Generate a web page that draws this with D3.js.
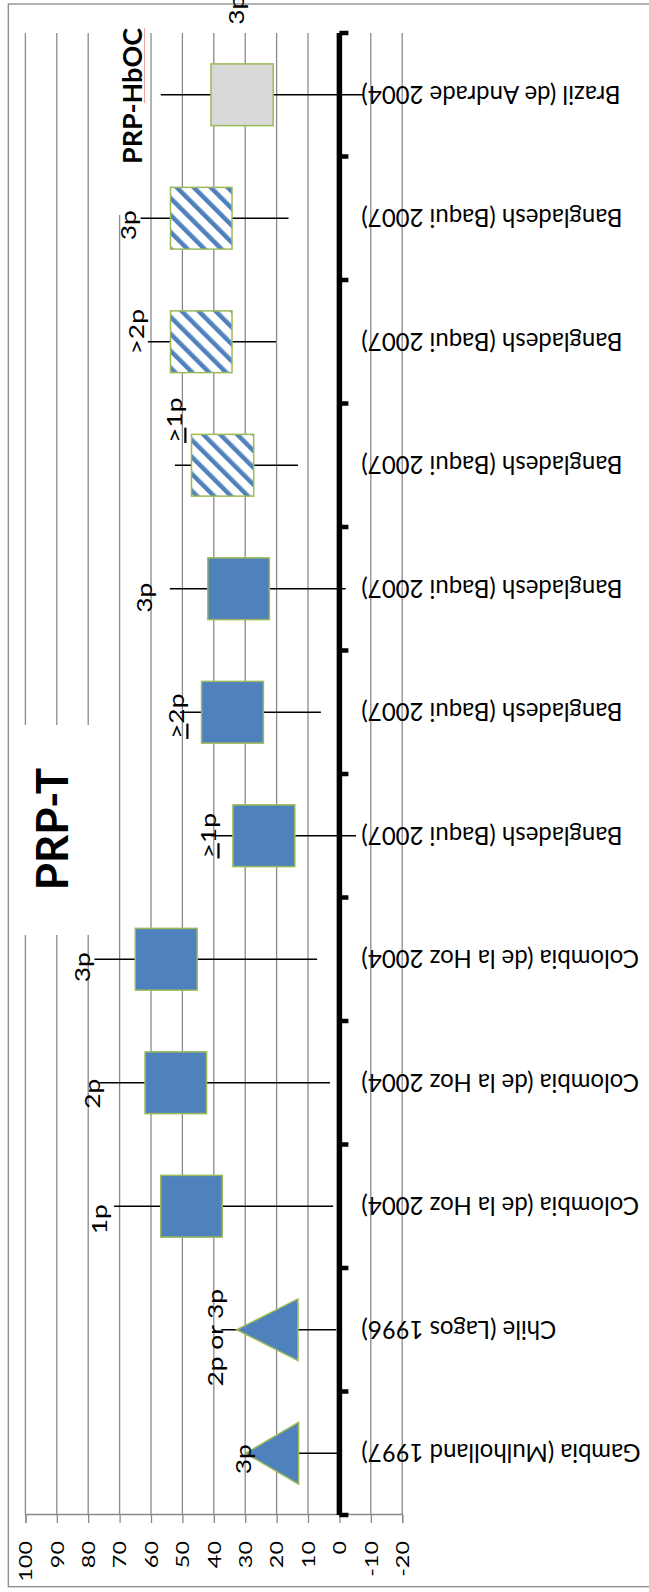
<!DOCTYPE html>
<html>
<head>
<meta charset="utf-8">
<script src="https://cdn.jsdelivr.net/npm/d3@7"></script>
<style>
  html, body { margin: 0; padding: 0; background: #fff; }
  svg { display: block; }
</style>
</head>
<body>
<div id="chart"></div>
<script>
// Hib vaccine response chart, drawn upright then turned 90deg ccw like the source slide.
// Box = inner range, whisker = outer range, triangle marks for the two early trials.

const categories = [
  'Gambia (Mulholland 1997)', 'Chile (Lagos 1996)',
  'Colombia (de la Hoz 2004)', 'Colombia (de la Hoz 2004)', 'Colombia (de la Hoz 2004)',
  'Bangladesh (Baqui 2007)', 'Bangladesh (Baqui 2007)', 'Bangladesh (Baqui 2007)',
  'Bangladesh (Baqui 2007)', 'Bangladesh (Baqui 2007)', 'Bangladesh (Baqui 2007)',
  'Brazil (de Andrade 2004)',
];
const boxLow      = [13, 13.2, 37.3, 42.3, 45.3, 14.2, 24.2, 22.3, 27.3, 34.2, 34.2, 21.1];
const boxHigh     = [29.9, 32.7, 56.9, 61.9, 65.0, 33.9, 43.9, 41.9, 47.1, 53.8, 53.8, 40.9];
const whiskerLow  = [0, 1, 2, 3, 7.1, -5.3, 5.9, -2, 13.2, 20.2, 16.2, -7.7];
const whiskerHigh = [29.9, 37.6, 71.8, 76.5, 78, 40.9, 50.8, 54, 52.4, 61, 63.3, 56.9];
const markKind    = ['triangle', 'triangle', 'solid', 'solid', 'solid', 'solid', 'solid', 'solid',
                     'hatch', 'hatch', 'hatch', 'gray'];
const pointLabels = ['3p', '2p or 3p', '1p', '2p', '3p', '≥1p', '≥2p', '3p', '≥1p', '>2p', '3p', '3p'];
const valueTicks  = [100, 90, 80, 70, 60, 50, 40, 30, 20, 10, 0, -10, -20];
const groupTitles = ['PRP-T', 'PRP-HbOC'];

// ---- layout (upright frame: x = categories, y = value) ----
const PAGE_W = 649, PAGE_H = 1592;
const PLOT = { left: 77, right: 1559, top: 25.4, bottom: 402.2 };
const FONT = "Lato, 'Open Sans', 'DejaVu Sans', sans-serif";
const BLUE = '#4F81BD', GREEN = '#9BBB59', GRID = '#8a8a8a';
// the source chart was stretched along its x axis, so its texts are too
const S_TICK = 1.3, S_CAT = 1.05, S_LAB = 1.2;

// label nudges in px: [lift above whisker end, shift along category]
const LABEL_NUDGE = [[1.5, -6], [5, -8], [13.6, -13], [6, -11], [11.5, -8], [2, 0], [2, -4],
                     [24, -9], [-1, 45], [10, 10], [11.6, -7], [-77, 85]];

const y = d3.scaleLinear().domain([-20, 100]).range([PLOT.bottom, PLOT.top]);
const x = d3.scaleBand()
  .domain(d3.range(categories.length))
  .range([PLOT.left, PLOT.right])
  .paddingInner(0.5).paddingOuter(0.25);
const bw = x.bandwidth();

const svg = d3.select('#chart').append('svg')
  .attr('width', PAGE_W).attr('height', PAGE_H)
  .attr('viewBox', `0 0 ${PAGE_W} ${PAGE_H}`);

const defs = svg.append('defs');
const hatch = defs.append('pattern')
  .attr('id', 'hatch').attr('patternUnits', 'userSpaceOnUse')
  .attr('width', 12).attr('height', 12)
  .attr('patternTransform', 'rotate(45)');
hatch.append('rect').attr('width', 12).attr('height', 12).attr('fill', '#fff');
hatch.append('rect').attr('width', 4.5).attr('height', 12).attr('fill', BLUE);

// turn the upright chart 90deg counter-clockwise onto the page
const g = svg.append('g').attr('transform', `translate(0,${PAGE_H}) rotate(-90)`)
  .style('font-family', FONT);

// outer chart border
g.append('rect')
  .attr('x', 5.3).attr('y', 8.3).attr('width', 1588 - 5.3).attr('height', 680)
  .attr('fill', '#fff').attr('stroke', GRID).attr('stroke-width', 1.3);

// gridlines
g.append('g').selectAll('line')
  .data(valueTicks.filter(v => v !== 0))
  .join('line')
  .attr('x1', PLOT.left).attr('x2', PLOT.right)
  .attr('y1', d => y(d)).attr('y2', d => y(d))
  .attr('stroke', GRID).attr('stroke-width', 1.3);

// value axis
const yAxis = d3.axisLeft(y).tickValues(valueTicks).tickSize(8).tickFormat(d3.format('d'));
g.append('g')
  .attr('transform', `translate(${PLOT.left},0)`)
  .call(yAxis)
  .call(ax => ax.select('.domain').attr('stroke', GRID).attr('stroke-width', 1.3))
  .call(ax => ax.selectAll('.tick line').attr('stroke', GRID).attr('stroke-width', 1.3))
  .call(ax => ax.selectAll('.tick text')
    .attr('x', 0).attr('dy', '0.35em')
    .attr('transform', `translate(-26,0) scale(${S_TICK},1)`)
    .attr('fill', '#000').attr('font-size', 18).attr('font-family', FONT)
    .text(d => d < 0 ? '-' + Math.abs(d) : d));

// title boxes (white, cover the gridlines)
g.append('rect').attr('x', 657).attr('y', 12).attr('width', 210).attr('height', 90).attr('fill', '#fff');
g.append('rect').attr('x', 1377).attr('y', 112).attr('width', 195).attr('height', 36).attr('fill', '#fff');
g.append('text')
  .attr('x', 763).attr('y', 52).attr('dy', '0.36em')
  .attr('text-anchor', 'middle').attr('font-weight', 700).attr('font-size', 44)
  .text(groupTitles[0]);
g.append('text')
  .attr('x', 1496).attr('y', 132.5).attr('dy', '0.36em')
  .attr('text-anchor', 'middle').attr('font-weight', 700).attr('font-size', 27)
  .text(groupTitles[1]);
g.append('line')
  .attr('x1', 1489).attr('x2', 1564).attr('y1', 144.5).attr('y2', 144.5)
  .attr('stroke', '#f2a0a0').attr('stroke-width', 1);

// whiskers
const cx = i => x(i) + bw / 2;
g.append('g').selectAll('line')
  .data(d3.range(categories.length))
  .join('line')
  .attr('x1', cx).attr('x2', cx)
  .attr('y1', i => y(whiskerLow[i])).attr('y2', i => y(whiskerHigh[i]))
  .attr('stroke', '#000').attr('stroke-width', 1.6);

// boxes and triangles
const fillFor = k => k === 'hatch' ? 'url(#hatch)' : k === 'gray' ? '#D9D9D9' : BLUE;
const marks = g.append('g');
d3.range(categories.length).forEach(i => {
  const k = markKind[i];
  if (k === 'triangle') {
    marks.append('path')
      .attr('d', `M${x(i)},${y(boxLow[i])}L${x(i) + bw},${y(boxLow[i])}L${cx(i)},${y(boxHigh[i])}Z`)
      .attr('fill', BLUE).attr('stroke', GREEN).attr('stroke-width', 1.5);
  } else {
    marks.append('rect')
      .attr('x', x(i)).attr('width', bw)
      .attr('y', y(boxHigh[i])).attr('height', y(boxLow[i]) - y(boxHigh[i]))
      .attr('fill', fillFor(k)).attr('stroke', GREEN).attr('stroke-width', 1.5);
  }
});

// category axis at zero
const y0 = y(0);
g.append('line')
  .attr('x1', PLOT.left).attr('x2', PLOT.right).attr('y1', y0).attr('y2', y0)
  .attr('stroke', '#000').attr('stroke-width', 5.5);
const bounds = d3.range(categories.length).map(i => x(i) - (x.step() - bw) / 2).concat([PLOT.right]);
g.append('g').selectAll('line')
  .data(bounds)
  .join('line')
  .attr('x1', d => d).attr('x2', d => d)
  .attr('y1', y0).attr('y2', y0 + 9)
  .attr('stroke', '#000').attr('stroke-width', 4.5);

g.append('g').selectAll('text')
  .data(categories)
  .join('text')
  .attr('transform', (d, i) => `translate(${cx(i)},${y0 + 22}) scale(${S_CAT},1) rotate(-90)`)
  .attr('dy', '0.35em')
  .attr('text-anchor', 'end')
  .attr('font-size', 24).attr('fill', '#000')
  .text(d => d);

// point labels above the whisker ends
const lab = g.append('g').selectAll('text')
  .data(pointLabels)
  .join('text')
  .attr('transform', (d, i) =>
    `translate(${cx(i) + LABEL_NUDGE[i][1]},${y(whiskerHigh[i]) - LABEL_NUDGE[i][0]}) scale(${S_LAB},1)`)
  .attr('dy', '0.3em')
  .attr('text-anchor', 'middle')
  .attr('font-size', 22).attr('fill', '#000');
lab.each(function(d) {
  const t = d3.select(this);
  if (d.startsWith('≥')) {
    t.append('tspan').style('text-decoration', 'underline').text('>');
    t.append('tspan').text(d.slice(1));
  } else {
    t.text(d);
  }
});
</script>
</body>
</html>
